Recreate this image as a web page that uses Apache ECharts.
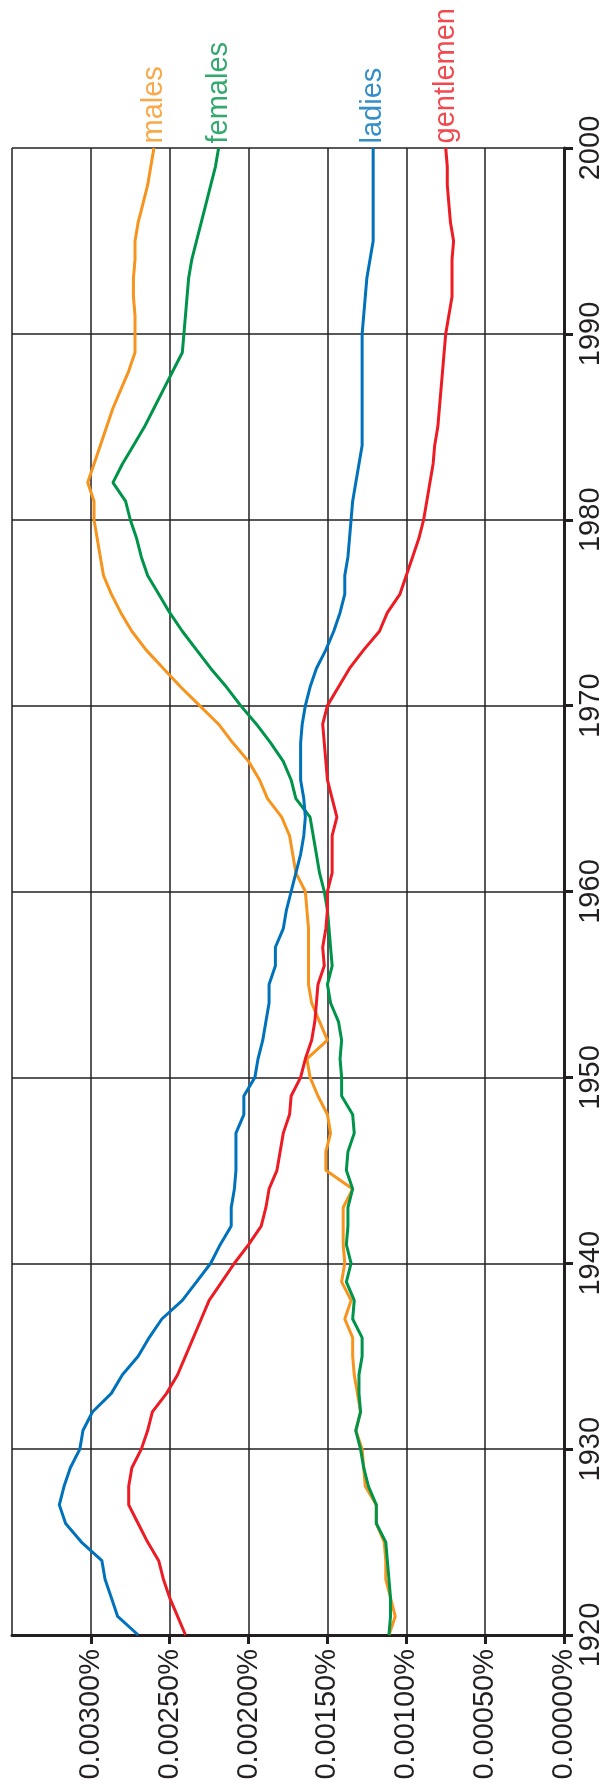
<!DOCTYPE html>
<html>
<head>
<meta charset="utf-8">
<script src="https://cdn.jsdelivr.net/npm/echarts@6/dist/echarts.min.js"></script>
<style>
html,body{margin:0;padding:0;background:#fff;}
#chart{width:605px;height:1785px;}
</style>
</head>
<body>
<div id="chart"></div>
<script>
const years = [1920,1921,1922,1923,1924,1925,1926,1927,1928,1929,
1930,1931,1932,1933,1934,1935,1936,1937,1938,1939,
1940,1941,1942,1943,1944,1945,1946,1947,1948,1949,
1950,1951,1952,1953,1954,1955,1956,1957,1958,1959,
1960,1961,1962,1963,1964,1965,1966,1967,1968,1969,
1970,1971,1972,1973,1974,1975,1976,1977,1978,1979,
1980,1981,1982,1983,1984,1985,1986,1987,1988,1989,
1990,1991,1992,1993,1994,1995,1996,1997,1998,1999,2000];

const seriesNames = ['males','females','ladies','gentlemen'];

const males = [0.00111,0.00107,0.00110,0.00113,0.00113,0.00114,0.00119,0.00119,0.00126,0.00127,
0.00128,0.00132,0.00129,0.00131,0.00133,0.00134,0.00134,0.00139,0.00135,0.00141,
0.00139,0.00140,0.00140,0.00140,0.00134,0.00151,0.00151,0.00148,0.00150,0.00156,
0.00161,0.00163,0.00150,0.00155,0.00160,0.00162,0.00162,0.00162,0.00162,0.00163,
0.00164,0.00170,0.00172,0.00174,0.00179,0.00188,0.00193,0.00200,0.00210,0.00219,
0.00231,0.00243,0.00254,0.00265,0.00274,0.00281,0.00287,0.00292,0.00294,0.00296,
0.00298,0.00298,0.00302,0.00298,0.00294,0.00290,0.00286,0.00281,0.00276,0.00272,
0.00272,0.00272,0.00273,0.00273,0.00272,0.00272,0.00270,0.00267,0.00264,0.00262,0.00260];

const females = [0.00111,0.00110,0.00110,0.00111,0.00112,0.00113,0.00119,0.00119,0.00124,0.00127,
0.00129,0.00132,0.00129,0.00130,0.00130,0.00128,0.00128,0.00134,0.00133,0.00138,
0.00135,0.00138,0.00137,0.00137,0.00134,0.00138,0.00137,0.00133,0.00134,0.00141,
0.00141,0.00142,0.00141,0.00143,0.00148,0.00150,0.00147,0.00148,0.00149,0.00150,
0.00152,0.00155,0.00157,0.00159,0.00161,0.00170,0.00173,0.00178,0.00186,0.00195,
0.00205,0.00214,0.00224,0.00233,0.00242,0.00250,0.00257,0.00264,0.00268,0.00271,
0.00275,0.00278,0.00286,0.00280,0.00273,0.00266,0.00260,0.00254,0.00248,0.00242,
0.00241,0.00240,0.00239,0.00238,0.00236,0.00233,0.00230,0.00227,0.00224,0.00221,0.00219];

const ladies = [0.00270,0.00283,0.00287,0.00291,0.00293,0.00306,0.00316,0.00320,0.00317,0.00313,
0.00307,0.00305,0.00299,0.00287,0.00280,0.00270,0.00263,0.00255,0.00242,0.00233,
0.00224,0.00218,0.00211,0.00211,0.00209,0.00208,0.00208,0.00208,0.00203,0.00203,
0.00196,0.00194,0.00191,0.00189,0.00187,0.00187,0.00183,0.00183,0.00178,0.00176,
0.00173,0.00170,0.00167,0.00165,0.00164,0.00165,0.00167,0.00167,0.00167,0.00166,
0.00164,0.00161,0.00157,0.00151,0.00146,0.00142,0.00139,0.00139,0.00137,0.00136,
0.00135,0.00134,0.00132,0.00130,0.00128,0.00128,0.00128,0.00128,0.00128,0.00128,
0.00128,0.00127,0.00126,0.00125,0.00123,0.00121,0.00121,0.00121,0.00121,0.00121,0.00121];

const gentlemen = [0.00240,0.00245,0.00250,0.00254,0.00257,0.00264,0.00270,0.00276,0.00276,0.00274,
0.00268,0.00264,0.00261,0.00252,0.00245,0.00240,0.00235,0.00230,0.00225,0.00217,
0.00209,0.00200,0.00192,0.00189,0.00187,0.00182,0.00180,0.00178,0.00174,0.00173,
0.00167,0.00164,0.00160,0.00158,0.00157,0.00156,0.00152,0.00153,0.00151,0.00150,
0.00150,0.00147,0.00147,0.00147,0.00144,0.00147,0.00150,0.00151,0.00152,0.00153,
0.00150,0.00143,0.00136,0.00127,0.00117,0.00112,0.00104,0.00100,0.00096,0.00092,
0.00089,0.00087,0.00085,0.00083,0.00082,0.00080,0.00079,0.00078,0.00077,0.00076,
0.00075,0.00073,0.00071,0.00071,0.00071,0.00070,0.00072,0.00073,0.00074,0.00074,0.00075];

const valueTicks = [0, 0.0005, 0.001, 0.0015, 0.002, 0.0025, 0.003, 0.0035];

const colors = {males:'#F7941E', females:'#00944A', ladies:'#0072BC', gentlemen:'#ED1C24'};
const values = {males, females, ladies, gentlemen};
const ink = '#231F20';
const font = '"Liberation Sans", Arial, sans-serif';

function lineSeries(name){
  const vals = values[name];
  return {
    name, type: 'line',
    data: vals.map((v,i) => [v, years[i]]),
    showSymbol: false, symbol: 'none',
    lineStyle: {color: colors[name], width: 3},
    itemStyle: {color: colors[name]},
    animation: false, silent: true, z: 3
  };
}

function labelSeries(name){
  const vals = values[name];
  const last = vals.length - 1;
  return {
    name: name + '-label', type: 'scatter',
    data: [[vals[last], years[last]]],
    clip: false,
    symbol: 'circle', symbolSize: 1,
    itemStyle: {color: 'rgba(0,0,0,0)'},
    label: {
      show: true, position: 'top', distance: 4, rotate: 90,
      align: 'left', verticalAlign: 'middle',
      formatter: name, color: colors[name],
      fontSize: 29, fontFamily: font
    },
    labelLayout: {hideOverlap: false},
    animation: false, silent: true, z: 4
  };
}

const chart = echarts.init(document.getElementById('chart'), null, {renderer:'canvas'});
chart.setOption({
  backgroundColor: '#fff',
  animation: false,
  grid: {left: 12, right: 40, top: 148, bottom: 150, containLabel: false},
  xAxis: {
    type: 'value', inverse: true,
    min: valueTicks[0], max: valueTicks[valueTicks.length-1], interval: 0.0005,
    position: 'bottom',
    axisLine: {show: true, onZero: false, lineStyle: {color: ink, width: 3}},
    axisTick: {show: true, length: 9, inside: false, lineStyle: {color: ink, width: 3}},
    axisLabel: {
      rotate: 90, margin: 14, fontSize: 29, fontFamily: font, color: ink,
      showMaxLabel: false, showMinLabel: true,
      formatter: v => v.toFixed(5) + '%'
    },
    splitLine: {show: true, lineStyle: {color: ink, width: 1.5}}
  },
  yAxis: {
    type: 'value', min: years[0], max: years[years.length-1], interval: 10,
    position: 'right',
    axisLine: {show: true, onZero: false, lineStyle: {color: ink, width: 3}},
    axisTick: {show: true, length: 9, inside: false, lineStyle: {color: ink, width: 3}},
    axisLabel: {
      rotate: 90, margin: 12, fontSize: 29, fontFamily: font, color: ink,
      showMinLabel: true, showMaxLabel: true,
      formatter: v => String(v)
    },
    splitLine: {show: true, lineStyle: {color: ink, width: 1.5}}
  },
  series: seriesNames.map(lineSeries).concat(seriesNames.map(labelSeries))
});
</script>
</body>
</html>
